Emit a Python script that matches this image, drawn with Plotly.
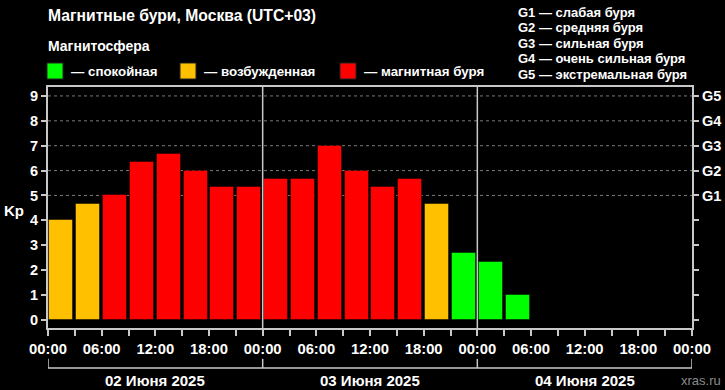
import plotly.graph_objects as go

# ---- data ----
bin_starts = [
    "2025-06-02 00:00", "2025-06-02 03:00", "2025-06-02 06:00", "2025-06-02 09:00",
    "2025-06-02 12:00", "2025-06-02 15:00", "2025-06-02 18:00", "2025-06-02 21:00",
    "2025-06-03 00:00", "2025-06-03 03:00", "2025-06-03 06:00", "2025-06-03 09:00",
    "2025-06-03 12:00", "2025-06-03 15:00", "2025-06-03 18:00", "2025-06-03 21:00",
    "2025-06-04 00:00", "2025-06-04 03:00",
]
kp_values = [4.00, 4.67, 5.00, 6.33, 6.67, 6.00, 5.33, 5.33,
             5.67, 5.67, 7.00, 6.00, 5.33, 5.67, 4.67, 2.67,
             2.33, 1.00]
day_starts = ["2025-06-02 00:00", "2025-06-03 00:00", "2025-06-04 00:00", "2025-06-05 00:00"]
day_labels = ["02 Июня 2025", "03 Июня 2025", "04 Июня 2025"]
day_centers = ["2025-06-02 12:00", "2025-06-03 12:00", "2025-06-04 12:00"]
g_levels = [5, 6, 7, 8, 9]
g_labels = ["G1", "G2", "G3", "G4", "G5"]
g_descriptions = ["G1 — слабая буря", "G2 — средняя буря", "G3 — сильная буря",
                  "G4 — очень сильная буря", "G5 — экстремальная буря"]
legend_names = ["— спокойная", "— возбужденная", "— магнитная буря"]

GREEN, ORANGE, RED = "#00ff00", "#ffc000", "#ff0000"
legend_colors = [GREEN, ORANGE, RED]


def kp_color(v):
    if v < 4:
        return GREEN
    if v < 5:
        return ORANGE
    return RED


colors = [kp_color(v) for v in kp_values]
PERIOD = 3 * 3600 * 1000
FONT = "Liberation Sans, Arial, sans-serif"
AX = "#c8c8c8"

fig = go.Figure()
fig.add_trace(go.Bar(
    x=bin_starts, y=kp_values, xperiod=PERIOD, xperiodalignment="middle",
    width=0.9 * PERIOD, marker=dict(color=colors, line=dict(color="rgba(0,0,0,0.45)", width=1)),
    showlegend=False, hoverinfo="x+y",
))
fig.add_trace(go.Scatter(x=[bin_starts[0]], y=[None], yaxis="y2", showlegend=False,
                         hoverinfo="skip"))

shapes = []
for lv in g_levels:
    shapes.append(dict(type="line", xref="paper", x0=0, x1=1, yref="y", y0=lv, y1=lv,
                       line=dict(color="#7a7a7a", width=1, dash="dot"), layer="below"))
for d in day_starts[1:-1]:
    shapes.append(dict(type="line", xref="x", x0=d, x1=d, yref="paper", y0=0, y1=1,
                       line=dict(color=AX, width=1.5), layer="above"))
# date bracket under axis
shapes.append(dict(type="line", xref="x", x0=day_starts[0], x1=day_starts[-1], yref="paper",
                   y0=-0.166, y1=-0.166, line=dict(color=AX, width=1.5)))
for d in day_starts:
    shapes.append(dict(type="line", xref="x", x0=d, x1=d, yref="paper", y0=-0.166, y1=-0.128,
                       line=dict(color=AX, width=1.5)))

W, H = 644.0, 241.0


def px(xp):
    return (xp - 48) / W


def py(yp):
    return (328 - yp) / H


# legend squares
sq_x = [47, 180, 340]
txt_x = [69, 202, 362]
for c, x0 in zip(legend_colors, sq_x):
    shapes.append(dict(type="rect", xref="paper", yref="paper", x0=px(x0), x1=px(x0 + 16),
                       y0=py(79), y1=py(63), fillcolor=c, line=dict(color="#222", width=1)))

ann = []
ann.append(dict(text="Магнитные бури, Москва (UTC+03)", x=px(46), y=py(16), xanchor="left",
                yanchor="middle", font=dict(size=15.7, color="white", family=FONT, weight="bold")))
ann.append(dict(text="Магнитосфера", x=px(46), y=py(46), xanchor="left", yanchor="middle",
                font=dict(size=14, color="white", family=FONT, weight="bold")))
for t, x0 in zip(legend_names, txt_x):
    ann.append(dict(text=t, x=px(x0), y=py(71), xanchor="left", yanchor="middle",
                    font=dict(size=13.3, color="white", family=FONT, weight="bold")))
for i, t in enumerate(g_descriptions):
    ann.append(dict(text=t, x=px(516), y=py(12 + i * 15.6), xanchor="left", yanchor="middle",
                    font=dict(size=13, color="white", family=FONT, weight="bold")))
ann.append(dict(text="Kp", x=px(14), y=py(210), xanchor="center", yanchor="middle",
                font=dict(size=15, color="white", family=FONT, weight="bold")))
for t, c in zip(day_labels, day_centers):
    ann.append(dict(text=t, x=c, xref="x", y=py(380), yanchor="middle", xanchor="center",
                    font=dict(size=15, color="white", family=FONT, weight="bold")))
ann.append(dict(text="xras.ru", x=px(723), y=py(380), xanchor="right", yanchor="middle",
                font=dict(size=13, color="#8a8a8a", family=FONT)))
for a in ann:
    a.setdefault("xref", "paper")
    a["yref"] = "paper"
    a["showarrow"] = False

fig.update_layout(
    width=725, height=390, margin=dict(l=48, r=33, t=87, b=62, autoexpand=False),
    paper_bgcolor="black", plot_bgcolor="black", bargap=0,
    font=dict(family=FONT, color="white"),
    shapes=shapes, annotations=ann, showlegend=False,
    xaxis=dict(type="date", range=[day_starts[0], day_starts[-1]], dtick=6 * 3600 * 1000,
               tick0=day_starts[0], tickformat="%H:%M", ticks="outside", ticklen=6,
               tickcolor=AX, tickwidth=1.5, showgrid=False, zeroline=False, automargin=False,
               showline=True, linecolor=AX, linewidth=2, mirror=True,
               tickfont=dict(size=14.8, color="white", family=FONT, weight="bold"),
               minor=dict(dtick=3 * 3600 * 1000, ticks="outside", ticklen=6, tickcolor=AX,
                          tickwidth=1.5, showgrid=False)),
    yaxis=dict(range=[-0.33, 9.36], tickvals=list(range(10)), ticks="outside", ticklen=5,
               tickcolor=AX, tickwidth=1.5, showgrid=False, zeroline=False, showline=True,
               linecolor=AX, linewidth=2, fixedrange=True, automargin=False,
               tickfont=dict(size=14.5, color="white", family=FONT, weight="bold")),
    yaxis2=dict(range=[-0.33, 9.36], overlaying="y", side="right", tickvals=list(range(10)),
                ticktext=[""] * 5 + g_labels, ticks="outside", ticklen=5, tickcolor=AX,
                tickwidth=1.5, showgrid=False, zeroline=False, showline=True, linecolor=AX,
                linewidth=2, automargin=False,
                tickfont=dict(size=14.5, color="white", family=FONT, weight="bold")),
)

fig.write_html(
    "out.html",
    config={"displayModeBar": False},
    post_script="document.body.style.margin='0';document.body.style.overflow='hidden';"
                "document.body.style.background='black';",
)
